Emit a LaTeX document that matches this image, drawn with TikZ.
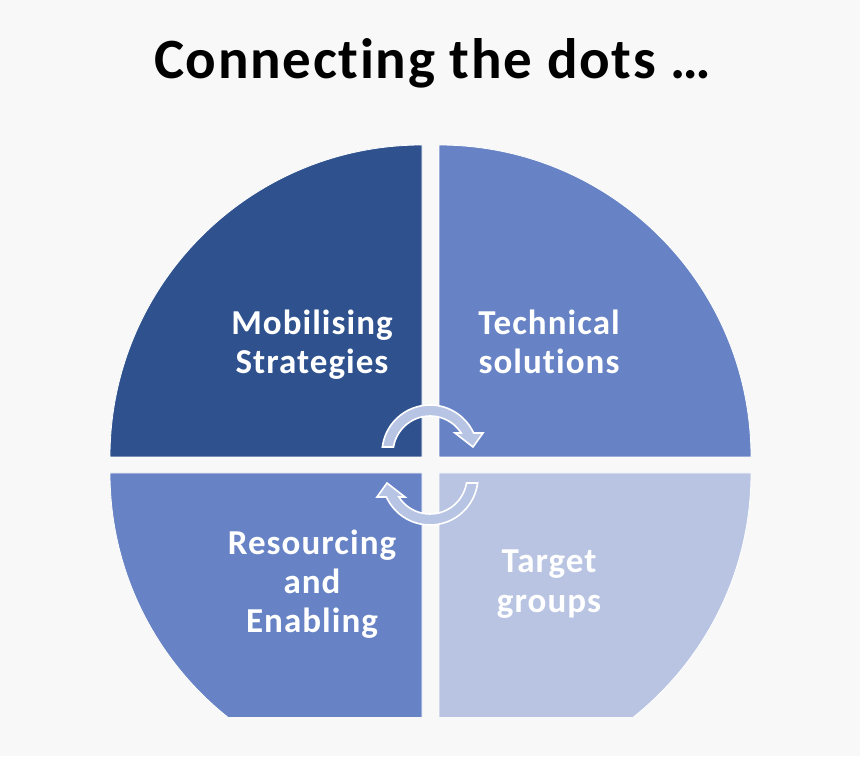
\documentclass[tikz,border=0pt]{standalone}
\usepackage{fontspec}
\setmainfont{Carlito}[Ligatures=NoCommon,LetterSpace=3.0]
\definecolor{bgc}{HTML}{F8F8F8}
\definecolor{qdark}{HTML}{2F528F}
\definecolor{qmid}{HTML}{6783C5}
\definecolor{qlight}{HTML}{B8C4E2}
\definecolor{arrowc}{HTML}{B7C4E3}
\begin{document}
\begin{tikzpicture}[x=1pt,y=1pt,
  quad/.style={draw=white,line width=0.8pt},
  arrowshape/.style={fill=arrowc,draw=white,line width=1.6pt,line join=miter},
  lbl/.style={text=white,font=\fontsize{35}{39}\selectfont\bfseries,align=center,anchor=base,inner sep=0pt},
  ttl/.style={text=black,font=\fontsize{57}{62}\selectfont\bfseries,anchor=base,inner sep=0pt}]
\useasboundingbox (0,0) rectangle (860,756);
\fill[bgc] (0,0) rectangle (860,756);
% quadrants
\path[quad,fill=qdark] (422,299) -- (110,299) arc[start angle=180,end angle=90,radius=312] -- cycle;
\path[quad,fill=qmid] (439,299) -- (439,611) arc[start angle=90,end angle=0,radius=312] -- cycle;
\begin{scope}
\clip (0,40) rectangle (860,756);
\path[quad,fill=qmid] (422,283) -- (110,283) arc[start angle=180,end angle=270,radius=312] -- cycle;
\path[quad,fill=qlight] (439,283) -- (751,283) arc[start angle=0,end angle=-90,radius=312] -- cycle;
\end{scope}
% circular arrows
\path[arrowshape,shift={(430,303)}] (172.8:48) arc[start angle=172.8,end angle=24.6,radius=48] -- (53,20) -- (43,6) -- (25,20) -- (32.7:37) arc[start angle=32.7,end angle=170.7,radius=37] -- cycle;
\path[arrowshape,shift={(430,279)},rotate=180] (172.8:48) arc[start angle=172.8,end angle=24.6,radius=48] -- (53,20) -- (43,6) -- (25,20) -- (32.7:37) arc[start angle=32.7,end angle=170.7,radius=37] -- cycle;
% texts
\node[ttl] (title) at (432.5,677) {Connecting the dots …};
\node[lbl] (mob) at (312,382) {Mobilising\\Strategies};
\node[lbl] (tech) at (549,382) {Technical\\solutions};
\node[lbl] (res) at (312,124) {Resourcing\\and\\Enabling};
\node[lbl] (tgt) at (549,144) {Target\\groups};
\end{tikzpicture}
\end{document}
